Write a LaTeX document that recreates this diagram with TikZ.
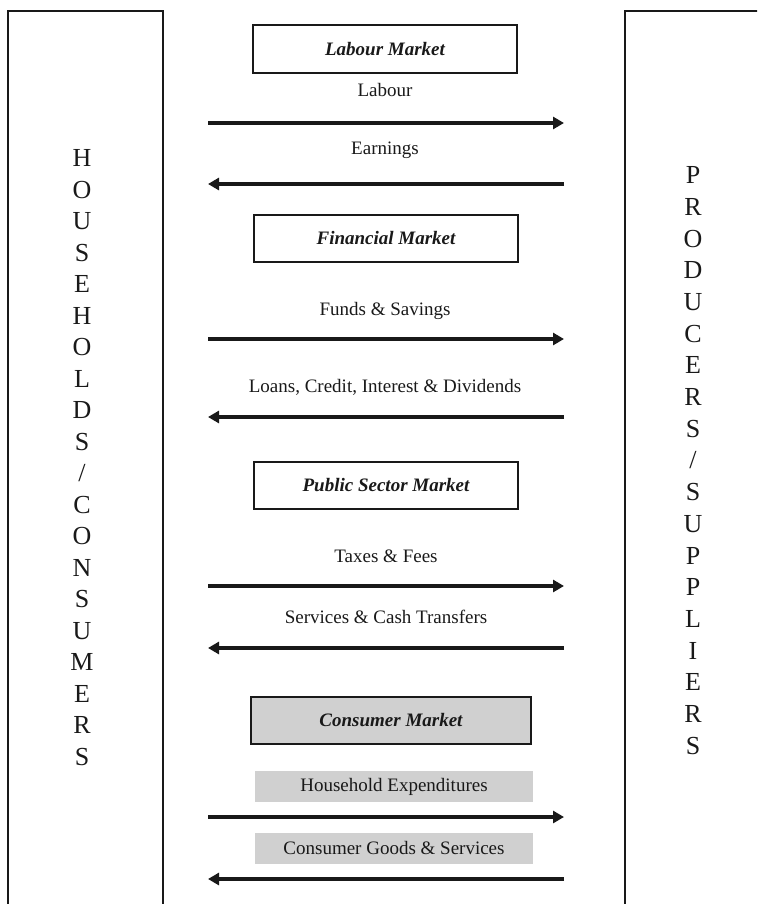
\documentclass[tikz,border=0pt]{standalone}
\usepackage{fontspec}
\setmainfont{Liberation Serif}
\usetikzlibrary{arrows.meta}
\definecolor{lgray}{RGB}{208,208,208}
\definecolor{ink}{RGB}{25,25,25}
\tikzset{
  sidebox/.style={draw=ink, line width=1.8pt},
  mkt/.style={draw=ink, line width=2pt, inner sep=0pt, font=\fontsize{19}{22}\selectfont\bfseries\itshape, text=ink},
  lbl/.style={inner sep=0pt, font=\fontsize{19}{22}\selectfont, text=ink, anchor=base},
  glbl/.style={fill=lgray, inner sep=0pt, minimum width=278pt, minimum height=31pt, font=\fontsize{19}{22}\selectfont, text=ink},
  vlet/.style={inner sep=0pt, font=\fontsize{26}{30}\selectfont, text=ink, anchor=base},
  flow/.style={line width=3.6pt, draw=ink, -{Triangle[length=11pt,width=12pt]}}
}
\begin{document}
\begin{tikzpicture}[x=1pt,y=-1pt]
\useasboundingbox (0,0) rectangle (757,904);
\clip (0,0) rectangle (757,904);
% side boxes
\draw[sidebox] (8,11) rectangle (163,930);
\draw[sidebox] (625,11) rectangle (790,930);
% vertical letters
\foreach \l [count=\i from 0] in {H,O,U,S,E,H,O,L,D,S,/,C,O,N,S,U,M,E,R,S}
  \node[vlet] (h\i) at (82,{166.6+\i*31.5}) {\l};
\foreach \l [count=\i from 0] in {P,R,O,D,U,C,E,R,S,/,S,U,P,P,L,I,E,R,S}
  \node[vlet] (p\i) at (693,{183.6+\i*31.7}) {\l};
% market boxes
\node[mkt, minimum width=264pt, minimum height=48pt] (labm) at (385,49) {Labour Market};
\node[mkt, minimum width=264pt, minimum height=47pt] (finm) at (386,238.5) {Financial Market};
\node[mkt, minimum width=264pt, minimum height=47pt] (pubm) at (386,485.5) {Public Sector Market};
\node[mkt, fill=lgray, minimum width=280pt, minimum height=47pt] (conm) at (391,720.5) {Consumer Market};
% labels
\node[lbl] (t1) at (385,97) {Labour};
\node[lbl] (t2) at (385,155) {Earnings};
\node[lbl] (t3) at (385,315) {Funds \& Savings};
\node[lbl] (t4) at (385,392) {Loans, Credit, Interest \& Dividends};
\node[lbl] (t5) at (386,562) {Taxes \& Fees};
\node[lbl] (t6) at (386,623) {Services \& Cash Transfers};
\node[glbl] (t7) at (394,786.5) {Household Expenditures};
\node[glbl] (t8) at (394,848) {Consumer Goods \& Services};
% arrows
\foreach \n/\y in {1/123,2/184,3/339,4/417,5/586,6/648,7/817,8/879}{
  \coordinate (l\n) at (208,\y);
  \coordinate (r\n) at (564,\y);
}
\draw[flow] (l1) -- (r1);
\draw[flow] (r2) -- (l2);
\draw[flow] (l3) -- (r3);
\draw[flow] (r4) -- (l4);
\draw[flow] (l5) -- (r5);
\draw[flow] (r6) -- (l6);
\draw[flow] (l7) -- (r7);
\draw[flow] (r8) -- (l8);
\end{tikzpicture}
\end{document}
